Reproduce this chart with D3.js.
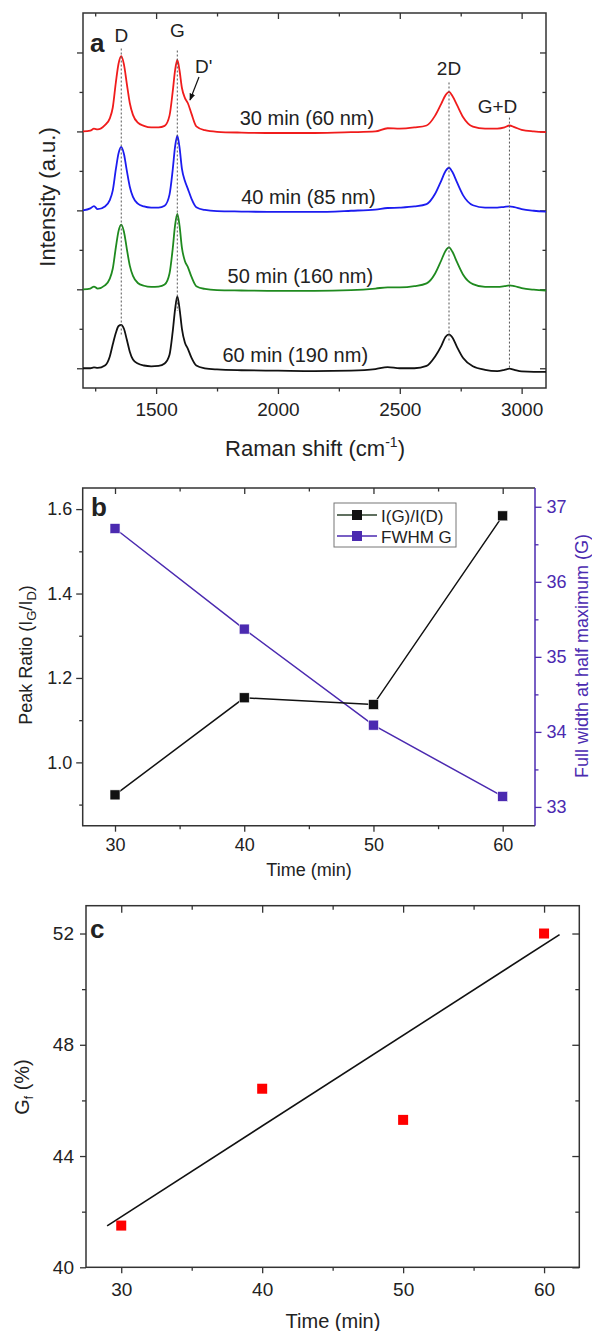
<!DOCTYPE html>
<html>
<head>
<meta charset="utf-8">
<script src="https://cdn.jsdelivr.net/npm/d3@7"></script>
<style>
  body { margin: 0; background: #fff; }
  svg text { font-family: "Liberation Sans", Arial, sans-serif; fill: #222; }
</style>
</head>
<body>
<script>
// ---- panel a : Raman spectra (intensity above each curve's own baseline) ----
const ramanShift = [1200, 1230, 1245, 1260, 1290, 1310, 1322, 1335, 1346, 1357,
  1368, 1380, 1392, 1405, 1425, 1450, 1480, 1510, 1535, 1555,
  1568, 1578, 1587, 1596, 1606, 1618, 1630, 1645, 1665, 1700,
  1750, 1850, 2000, 2150, 2300, 2400, 2450, 2500, 2560, 2610,
  2645, 2670, 2688, 2702, 2716, 2734, 2760, 2800, 2850, 2900,
  2930, 2950, 2970, 3000, 3050, 3100];

const int30 = [0.0, 0.02, 0.07, 0.05, 0.16, 0.33, 0.6, 1.25, 1.72, 1.91,
  1.7, 1.2, 0.72, 0.42, 0.22, 0.14, 0.1, 0.1, 0.14, 0.4,
  1.0, 1.55, 1.81, 1.55, 1.1, 0.85, 0.72, 0.45, 0.13, 0.03,
  -0.01, -0.03, -0.04, -0.04, -0.02, 0.0, 0.08, 0.07, 0.1, 0.15,
  0.4, 0.7, 0.92, 1.0, 0.9, 0.68, 0.36, 0.12, 0.07, 0.07,
  0.1, 0.15, 0.11, 0.04, 0.0, -0.02];
const int40 = [0.0, 0.05, 0.11, 0.03, 0.1, 0.26, 0.5, 1.05, 1.45, 1.61,
  1.43, 1.0, 0.6, 0.34, 0.17, 0.1, 0.07, 0.07, 0.12, 0.4,
  1.02, 1.62, 1.89, 1.6, 1.05, 0.75, 0.55, 0.3, 0.08, 0.01,
  -0.02, -0.03, -0.04, -0.04, -0.01, 0.02, 0.06, 0.07, 0.1, 0.16,
  0.42, 0.75, 1.0, 1.08, 0.97, 0.72, 0.38, 0.13, 0.07, 0.07,
  0.09, 0.1, 0.08, 0.03, -0.01, -0.03];
const int50 = [0.0, 0.02, 0.07, 0.02, 0.1, 0.27, 0.52, 1.07, 1.48, 1.64,
  1.46, 1.02, 0.6, 0.34, 0.16, 0.09, 0.06, 0.07, 0.12, 0.4,
  1.02, 1.63, 1.91, 1.62, 1.05, 0.72, 0.57, 0.32, 0.08, 0.01,
  -0.02, -0.03, -0.04, -0.04, -0.02, 0.02, 0.05, 0.05, 0.08, 0.15,
  0.4, 0.73, 0.98, 1.06, 0.95, 0.7, 0.37, 0.13, 0.06, 0.06,
  0.08, 0.1, 0.08, 0.03, -0.01, -0.03];
const int60 = [0.0, 0.0, 0.02, 0.01, 0.07, 0.3, 0.6, 0.9, 1.07, 1.1,
  1.0, 0.72, 0.42, 0.22, 0.12, 0.07, 0.05, 0.06, 0.12, 0.34,
  0.92, 1.5, 1.82, 1.52, 1.0, 0.65, 0.5, 0.27, 0.07, 0.0,
  -0.03, -0.05, -0.06, -0.07, -0.06, -0.02, 0.03, 0.0, 0.0, 0.06,
  0.3, 0.56, 0.8, 0.86, 0.78, 0.55, 0.26, 0.05, -0.04, -0.07,
  -0.04, -0.01, -0.04, -0.08, -0.09, -0.09];

const spectrumLabels = ['30 min (60 nm)', '40 min (85 nm)', '50 min (160 nm)', '60 min (190 nm)'];
const spectrumOffsets = [6, 4, 2, 0];
const spectrumColors = ['#f01c1c', '#1c1cf0', '#1f8a1f', '#111111'];

const peakNames = ['D', 'G', '2D', 'G+D'];
const peakShift = [1357, 1587, 2702, 2950];
const peakLineTop = [8.1, 8.05, 7.24, 6.35];
const peakLineBottom = [0.85, 1.45, 0.65, -0.02];

// ---- panel b ----
const timeMin = [30, 40, 50, 60];
const ratioGD = [0.923, 1.153, 1.137, 1.584];
const fwhmG = [36.71, 35.37, 34.09, 33.14];

// ---- panel c ----
const gf = [41.5, 46.42, 45.3, 52.0];
const gfFitTime = [29, 61.1];
const gfFitValue = [41.49, 51.96];

const purple = '#4b2ab0';
const axisColor = '#333';

const svg = d3.select('body').append('svg')
  .attr('width', 592)
  .attr('height', 1331);

// one set of ticks (major or minor), no domain line
function tickSet(axisGen, scale, values, size, transform, fmt, padding, fontSize, color) {
  let ax = axisGen(scale).tickValues(values).tickSize(size).tickPadding(padding || 4);
  ax = fmt ? ax.tickFormat(fmt) : ax.tickFormat('');
  let g = svg.append('g')
    .attr('transform', transform)
    .call(ax);
  g.attr('font-size', fontSize || 18);
  g.select('.domain').remove();
  g.selectAll('line').attr('stroke', color || axisColor).attr('stroke-width', 1.3);
  g.selectAll('text').style('fill', color || '#222');
  return g;
}

function frame(x, y) {
  svg.append('rect')
    .attr('x', x.range()[0])
    .attr('y', y.range()[1])
    .attr('width', x.range()[1] - x.range()[0])
    .attr('height', y.range()[0] - y.range()[1])
    .attr('fill', 'none')
    .attr('stroke', axisColor)
    .attr('stroke-width', 1.5);
}

function text(x, y, str, size, opts) {
  opts = opts || {};
  let t = svg.append('text')
    .attr('x', x)
    .attr('y', y)
    .attr('font-size', size)
    .attr('text-anchor', opts.anchor || 'start')
    .text(str);
  if (opts.bold) t.attr('font-weight', 'bold');
  if (opts.color) t.style('fill', opts.color);
  return t;
}

// ================= panel a =================
const xA = d3.scaleLinear([1200, 3100], [83, 546]);
const yA = d3.scaleLinear([-0.5, 9], [388, 13]);
const bA = yA.range()[0], tA = yA.range()[1], lA = xA.range()[0], rA = xA.range()[1];

tickSet(d3.axisBottom, xA, [1500, 2000, 2500, 3000], 6, `translate(0,${bA})`, d3.format('d'), 9, 19);
tickSet(d3.axisBottom, xA, [1250, 1750, 2250, 2750], 3.5, `translate(0,${bA})`);
tickSet(d3.axisBottom, xA, [1500, 2000, 2500, 3000], 6, `translate(0,${tA})`);
tickSet(d3.axisBottom, xA, [1250, 1750, 2250, 2750], 3.5, `translate(0,${tA})`);
tickSet(d3.axisLeft, yA, [0, 2, 4, 6, 8], 6, `translate(${lA},0)`);
tickSet(d3.axisLeft, yA, [1, 3, 5, 7], 3.5, `translate(${lA},0)`);
tickSet(d3.axisLeft, yA, [0, 2, 4, 6, 8], 6, `translate(${rA},0)`);
tickSet(d3.axisLeft, yA, [1, 3, 5, 7], 3.5, `translate(${rA},0)`);
frame(xA, yA);

const spectra = [int30, int40, int50, int60];
spectra.forEach((vals, i) => {
  let line = d3.line()
    .x((d, j) => xA(ramanShift[j]))
    .y(d => yA(d + spectrumOffsets[i]))
    .curve(d3.curveMonotoneX);
  svg.append('path')
    .attr('d', line(vals))
    .attr('fill', 'none')
    .attr('stroke', spectrumColors[i])
    .attr('stroke-width', 1.8)
    .attr('stroke-linejoin', 'round');
});

// dotted guides for the peaks
svg.selectAll('.peak-line')
  .data(peakShift)
  .enter().append('line')
  .attr('class', 'peak-line')
  .attr('x1', d => xA(d))
  .attr('x2', d => xA(d))
  .attr('y1', (d, i) => yA(peakLineTop[i]))
  .attr('y2', (d, i) => yA(peakLineBottom[i]))
  .attr('stroke', '#555')
  .attr('stroke-width', 1)
  .attr('stroke-dasharray', '2,2');

// peak names
const peakLabelY = [42, 37, 75, 113];
peakNames.forEach((n, i) => {
  text(xA(peakShift[i]) + (n === 'G+D' ? -12 : 0), peakLabelY[i], n, 19, { anchor: 'middle' });
});
text(195, 73, "D'", 19);

svg.append('defs').append('marker')
  .attr('id', 'arrow')
  .attr('viewBox', '0 0 10 10')
  .attr('refX', 9).attr('refY', 5)
  .attr('markerWidth', 6).attr('markerHeight', 6)
  .attr('orient', 'auto')
  .append('path').attr('d', 'M0,1 L10,5 L0,9 Z').attr('fill', '#111');
svg.append('line')
  .attr('x1', 199).attr('y1', 77)
  .attr('x2', 190).attr('y2', 100)
  .attr('stroke', '#111').attr('stroke-width', 1.2)
  .attr('marker-end', 'url(#arrow)');

// curve labels
const labelCenter = [2119, 2125, 2092, 2071];
spectrumLabels.forEach((s, i) => {
  text(xA(labelCenter[i]), yA(spectrumOffsets[i] + 0.17), s, 20, { anchor: 'middle' });
});

text(90, 52, 'a', 26, { bold: true });

svg.append('text')
  .attr('transform', 'translate(55,197) rotate(-90)')
  .attr('text-anchor', 'middle')
  .attr('font-size', 22)
  .text('Intensity (a.u.)');

let ramanTitle = svg.append('text')
  .attr('x', 315).attr('y', 456)
  .attr('text-anchor', 'middle')
  .attr('font-size', 22);
ramanTitle.append('tspan').text('Raman shift (cm');
ramanTitle.append('tspan').attr('font-size', 14).attr('dy', -9).text('-1');
ramanTitle.append('tspan').attr('dy', 9).text(')');

// ================= panel b =================
const xB = d3.scaleLinear([27.5, 62.5], [82.7, 535]);
const yB = d3.scaleLinear([0.85, 1.65], [825.7, 488]);
const yB2 = d3.scaleLinear([32.75, 37.25], [825.7, 488]);
const bB = yB.range()[0], tB = yB.range()[1], lB = xB.range()[0], rB = xB.range()[1];

tickSet(d3.axisBottom, xB, timeMin, 6, `translate(0,${bB})`, d3.format('d'), 7, 18);
tickSet(d3.axisBottom, xB, [35, 45, 55], 3.5, `translate(0,${bB})`);
tickSet(d3.axisBottom, xB, timeMin, 6, `translate(0,${tB})`);
tickSet(d3.axisBottom, xB, [35, 45, 55], 3.5, `translate(0,${tB})`);
tickSet(d3.axisLeft, yB, [1.0, 1.2, 1.4, 1.6], 6.5, `translate(${lB},0)`, d3.format('.1f'), 4, 18);
tickSet(d3.axisLeft, yB, [0.9, 1.1, 1.3, 1.5], 3.5, `translate(${lB},0)`);
tickSet(d3.axisRight, yB2, [33, 34, 35, 36, 37], 6.5, `translate(${rB},0)`, d3.format('d'), 5, 18, purple);
tickSet(d3.axisRight, yB2, [33.5, 34.5, 35.5, 36.5], 3.5, `translate(${rB},0)`, null, 4, 18, purple);

// frame: left/top/bottom dark, right purple
svg.append('path')
  .attr('d', `M${rB},${tB} H${lB} V${bB} H${rB}`)
  .attr('fill', 'none').attr('stroke', axisColor).attr('stroke-width', 1.5);
svg.append('line')
  .attr('x1', rB).attr('x2', rB).attr('y1', tB).attr('y2', bB)
  .attr('stroke', purple).attr('stroke-width', 1.5);

const seriesB = [
  { name: 'I(G)/I(D)', values: ratioGD, y: yB, color: '#111', legendColor: '#2b402b' },
  { name: 'FWHM G', values: fwhmG, y: yB2, color: purple, legendColor: purple }
];
seriesB.slice().reverse().forEach(s => {
  let line = d3.line().x((d, i) => xB(timeMin[i])).y(d => s.y(d));
  svg.append('path')
    .attr('d', line(s.values))
    .attr('fill', 'none')
    .attr('stroke', s.color)
    .attr('stroke-width', 1.5);
  svg.append('g').selectAll('rect')
    .data(s.values)
    .enter().append('rect')
    .attr('x', (d, i) => xB(timeMin[i]) - 5)
    .attr('y', d => s.y(d) - 5)
    .attr('width', 10).attr('height', 10)
    .attr('fill', s.color)
    .attr('stroke', '#fff').attr('stroke-width', 0.6);
});

// legend
const legend = svg.append('g').attr('transform', 'translate(334,503)');
legend.append('rect')
  .attr('width', 122).attr('height', 44)
  .attr('fill', '#fff').attr('stroke', '#777').attr('stroke-width', 1);
seriesB.forEach((s, i) => {
  let row = legend.append('g').attr('transform', `translate(0,${12 + i * 21})`);
  row.append('line').attr('x1', 3).attr('x2', 43).attr('y1', 0).attr('y2', 0)
    .attr('stroke', s.legendColor).attr('stroke-width', 1.5);
  row.append('rect').attr('x', 18).attr('y', -5).attr('width', 10).attr('height', 10)
    .attr('fill', s.color);
  row.append('text').attr('x', 47).attr('y', 6.5).attr('font-size', 17).text(s.name);
});

text(91, 516, 'b', 26, { bold: true });
text(309, 876, 'Time (min)', 18, { anchor: 'middle' });

let ratioTitle = svg.append('text')
  .attr('transform', 'translate(32,655) rotate(-90)')
  .attr('text-anchor', 'middle')
  .attr('font-size', 18);
ratioTitle.append('tspan').text('Peak Ratio (I');
ratioTitle.append('tspan').attr('font-size', 13).attr('dy', 4).text('G');
ratioTitle.append('tspan').attr('dy', -4).text('/I');
ratioTitle.append('tspan').attr('font-size', 13).attr('dy', 4).text('D');
ratioTitle.append('tspan').attr('dy', -4).text(')');

svg.append('text')
  .attr('transform', 'translate(588,656) rotate(-90)')
  .attr('text-anchor', 'middle')
  .attr('font-size', 18)
  .style('fill', purple)
  .text('Full width at half maximum (G)');

// ================= panel c =================
const xC = d3.scaleLinear([27.5, 62.5], [86, 579.3]);
const yC = d3.scaleLinear([40, 53], [1267.3, 905.7]);
const bC = yC.range()[0], tC = yC.range()[1], lC = xC.range()[0], rC = xC.range()[1];

tickSet(d3.axisBottom, xC, timeMin, 6, `translate(0,${bC})`, d3.format('d'), 9, 19);
tickSet(d3.axisBottom, xC, [35, 45, 55], 3.5, `translate(0,${bC})`);
tickSet(d3.axisBottom, xC, timeMin, 7, `translate(0,${tC})`);
tickSet(d3.axisBottom, xC, [35, 45, 55], 4, `translate(0,${tC})`);
tickSet(d3.axisLeft, yC, [40, 44, 48, 52], 6, `translate(${lC},0)`, d3.format('d'), 6, 19);
tickSet(d3.axisLeft, yC, [42, 46, 50], 4, `translate(${lC},0)`);
tickSet(d3.axisLeft, yC, [40, 44, 48, 52], 7, `translate(${rC},0)`);
tickSet(d3.axisLeft, yC, [42, 46, 50], 4, `translate(${rC},0)`);
frame(xC, yC);

svg.append('path')
  .attr('d', d3.line().x((d, i) => xC(gfFitTime[i])).y(d => yC(d))(gfFitValue))
  .attr('fill', 'none')
  .attr('stroke', '#111')
  .attr('stroke-width', 1.6);

svg.append('g').selectAll('rect')
  .data(gf)
  .enter().append('rect')
  .attr('x', (d, i) => xC(timeMin[i]) - 5)
  .attr('y', d => yC(d) - 5)
  .attr('width', 10).attr('height', 10)
  .attr('fill', '#ff0000');

text(90, 938, 'c', 26, { bold: true });
text(333, 1328, 'Time (min)', 20, { anchor: 'middle' });

let gfTitle = svg.append('text')
  .attr('transform', 'translate(29,1087) rotate(-90)')
  .attr('text-anchor', 'middle')
  .attr('font-size', 20);
gfTitle.append('tspan').text('G');
gfTitle.append('tspan').attr('font-size', 12).attr('dy', 4).text('f');
gfTitle.append('tspan').attr('dy', -4).text(' (%)');
</script>
</body>
</html>
